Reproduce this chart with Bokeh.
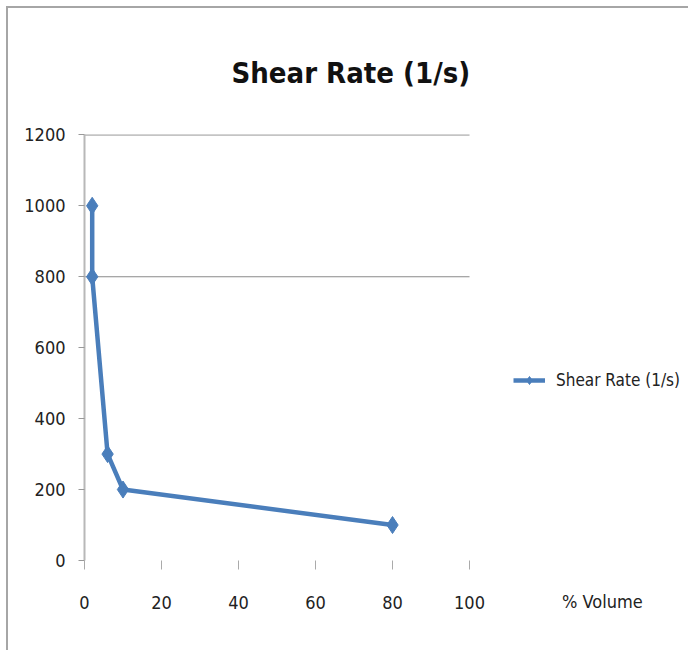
from bokeh.plotting import figure
from bokeh.models import Range1d, FixedTicker, Legend, LegendItem, Title, LinearAxis
from bokeh.embed import file_html
from bokeh.resources import INLINE

# data
volume_pct = [2, 2, 6, 10, 80]
shear_rate = [1000, 800, 300, 200, 100]
series_name = "Shear Rate (1/s)"
chart_title = "Shear Rate (1/s)"
x_axis_title = "% Volume"
x_title_pos = 134.5
x_ticks = [0, 20, 40, 60, 80, 100]
y_ticks = [0, 200, 400, 600, 800, 1000, 1200]
grid_values = [800, 1200]

FONT = "'DejaVu Sans Condensed', 'Liberation Sans', sans-serif"
BLUE = "#4a7ebb"

p = figure(width=682, height=644, output_backend="svg", toolbar_location=None,
           x_range=Range1d(0, 156.1), y_range=Range1d(0, 1201),
           min_border_left=76, min_border_right=5, min_border_top=126, min_border_bottom=92)
p.title = None
p.outline_line_color = None
p.background_fill_color = "white"
p.border_fill_color = "white"
p.styles = {"margin-left": "6px", "margin-top": "6px",
            "border-top": "2px solid #a6a6a6", "border-left": "2px solid #a6a6a6"}

# axes
p.xaxis.ticker = FixedTicker(ticks=x_ticks)
p.yaxis.ticker = FixedTicker(ticks=y_ticks)
p.xaxis.axis_line_color = None
p.xaxis.major_tick_in = 0
p.xaxis.major_tick_out = 9
p.xaxis.major_tick_line_color = "#aaaaaa"
p.xaxis.minor_tick_line_color = None
p.xaxis.major_label_standoff = 26
p.yaxis.axis_line_color = "#b8b8b8"
p.yaxis.axis_line_width = 2
p.yaxis.major_tick_in = 0
p.yaxis.major_tick_out = 6
p.yaxis.major_tick_line_color = "#999999"
p.yaxis.minor_tick_line_color = None
p.yaxis.major_label_standoff = 13
for ax in (p.xaxis, p.yaxis):
    ax.major_label_text_font = FONT
    ax.major_label_text_font_size = "18px"
    ax.major_label_text_color = "#222222"

# second bottom axis carrying only the "% Volume" caption
xt = LinearAxis(ticker=FixedTicker(ticks=[x_title_pos]),
                major_label_overrides={x_title_pos: x_axis_title},
                axis_line_color=None, major_tick_line_color=None,
                minor_tick_line_color=None, major_tick_in=0, major_tick_out=0,
                major_label_standoff=-21,
                major_label_text_font=FONT, major_label_text_font_size="18px",
                major_label_text_color="#222222")
p.add_layout(xt, "below")

p.xgrid.grid_line_color = None
p.ygrid.grid_line_color = None
p.segment(x0=[x_ticks[0]] * len(grid_values), x1=[x_ticks[-1]] * len(grid_values),
          y0=grid_values, y1=grid_values, line_color="#8a8a8a", line_width=1.2)

# series
ln = p.line(volume_pct, shear_rate, line_color=BLUE, line_width=4.5)
sc = p.scatter(volume_pct, shear_rate, marker="diamond", size=17,
               fill_color=BLUE, line_color=BLUE)

legend = Legend(items=[LegendItem(label=series_name, renderers=[ln, sc])],
                location=(429, 170), border_line_color=None,
                background_fill_alpha=0, padding=0, margin=0,
                glyph_width=32, label_standoff=11,
                label_text_font=FONT, label_text_font_size="17px",
                label_text_color="#222222")
p.add_layout(legend)

p.add_layout(Title(text=chart_title, align="left", offset=147, standoff=90,
                   text_font=FONT, text_font_size="29px", text_font_style="bold",
                   text_color="#111111"), "above")

open("out.html", "w").write(file_html(p, INLINE))
